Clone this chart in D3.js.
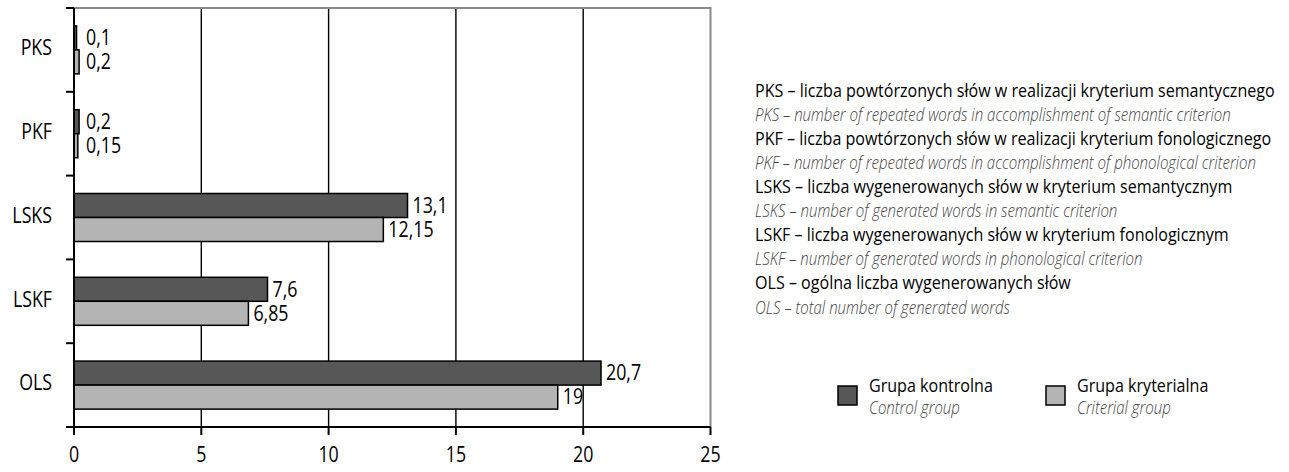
<!DOCTYPE html>
<html>
<head>
<meta charset="utf-8">
<script src="https://cdn.jsdelivr.net/npm/d3@7"></script>
<style>
  html, body { margin: 0; padding: 0; background: #fff; }
  svg { display: block; }
  text { font-family: "Open Sans", "Noto Sans", "DejaVu Sans", sans-serif; }
</style>
</head>
<body>
<svg id="chart" width="1289" height="472"></svg>
<script>
// Categories (top to bottom) and the two group series
const categories = ["PKS", "PKF", "LSKS", "LSKF", "OLS"];
const controlValues = [0.1, 0.2, 13.1, 7.6, 20.7];
const criterialValues = [0.2, 0.15, 12.15, 6.85, 19];
const xTicks = [0, 5, 10, 15, 20, 25];

const groups = ["control", "criterial"];
const groupNames = ["Grupa kontrolna", "Grupa kryterialna"];
const groupNamesEn = ["Control group", "Criterial group"];
const groupColors = ["#575757", "#b4b4b4"];

// Abbreviation glossary: [Polish, English]
const glossary = [
  ["PKS – liczba powtórzonych słów w realizacji kryterium semantycznego",
   "PKS – number of repeated words in accomplishment of semantic criterion"],
  ["PKF – liczba powtórzonych słów w realizacji kryterium fonologicznego",
   "PKF – number of repeated words in accomplishment of phonological criterion"],
  ["LSKS – liczba wygenerowanych słów w kryterium semantycznym",
   "LSKS – number of generated words in semantic criterion"],
  ["LSKF – liczba wygenerowanych słów w kryterium fonologicznym",
   "LSKF – number of generated words in phonological criterion"],
  ["OLS – ogólna liczba wygenerowanych słów",
   "OLS – total number of generated words"]
];

const fmt = v => String(v).replace(".", ",");

const svg = d3.select("#chart");

// Horizontal condensing factors so the regular sans faces read like condensed ones
function measure(str, italic) {
  const t = svg.append("text").attr("font-size", 19).text(str);
  if (italic) t.attr("font-style", "italic").attr("font-weight", 300);
  const w = t.node().getComputedTextLength();
  t.remove();
  return w;
}
const condense = 520 / measure(glossary[0][0], false);
const condenseItalic = 476 / measure(glossary[0][1], true);

function label(parent, x, y, str, opts = {}) {
  const k = opts.italic ? condenseItalic : condense;
  const t = parent.append("text")
    .attr("transform", `translate(${x},${y}) scale(${k},1)`)
    .attr("dy", "0.35em")
    .attr("font-size", opts.size || 21)
    .attr("fill", opts.fill || "#000")
    .attr("text-anchor", opts.anchor || "start")
    .text(str);
  if (opts.italic) t.attr("font-style", "italic").attr("font-weight", 300);
  return t;
}

const plot = { left: 74, right: 710.5, top: 8, bottom: 427 };

const x = d3.scaleLinear().domain([0, 25]).range([plot.left, plot.right]);
const y = d3.scaleBand().domain(categories)
  .range([plot.top, plot.bottom]).paddingInner(0.427).paddingOuter(0.2135);
const yCat = d3.scaleBand().domain(categories).range([plot.top, plot.bottom]);
const yGroup = d3.scaleBand().domain(groups).range([0, y.bandwidth()]);

// Vertical gridlines
svg.append("g").selectAll("line")
  .data(xTicks.filter(t => t > 0 && t < 25))
  .join("line")
  .attr("x1", d => x(d)).attr("x2", d => x(d))
  .attr("y1", plot.top).attr("y2", plot.bottom)
  .attr("stroke", "#000").attr("stroke-width", 1.4);

// Plot frame: top and right edges in grey
svg.append("path")
  .attr("d", `M${plot.left},${plot.top}H${plot.right}V${plot.bottom}`)
  .attr("fill", "none").attr("stroke", "#8a8a8a").attr("stroke-width", 2);

// Bars
const rows = categories.map((c, i) => ({ cat: c, vals: [controlValues[i], criterialValues[i]] }));
const rowG = svg.append("g").selectAll("g").data(rows).join("g")
  .attr("transform", d => `translate(0,${y(d.cat)})`);

rowG.selectAll("rect")
  .data(d => d.vals.map((v, j) => ({ v, g: groups[j], j })))
  .join("rect")
  .attr("x", x(0))
  .attr("y", d => yGroup(d.g))
  .attr("width", d => x(d.v) - x(0))
  .attr("height", yGroup.bandwidth())
  .attr("fill", d => groupColors[d.j])
  .attr("stroke", "#000").attr("stroke-width", 1.5);

// Value labels
rowG.each(function (d) {
  const g = d3.select(this);
  d.vals.forEach((v, j) => {
    const lx = Math.max(x(v) + 5, x(0) + 12);
    label(g, lx, yGroup(groups[j]) + yGroup.bandwidth() / 2, fmt(v), { size: 21 });
  });
});

// Left axis with ticks between categories
const axisG = svg.append("g");
axisG.append("line")
  .attr("x1", plot.left).attr("x2", plot.left)
  .attr("y1", plot.top).attr("y2", plot.bottom + 8)
  .attr("stroke", "#000").attr("stroke-width", 2);
const boundaries = categories.map(c => yCat(c)).concat([plot.bottom]);
axisG.selectAll("line.ytick").data(boundaries).join("line")
  .attr("class", "ytick")
  .attr("x1", plot.left - 8).attr("x2", plot.left)
  .attr("y1", d => d).attr("y2", d => d)
  .attr("stroke", "#000").attr("stroke-width", 2);
categories.forEach(c => {
  label(svg, plot.left - 22, yCat(c) + yCat.bandwidth() / 2 - 2, c, { size: 21, anchor: "end" });
});

// Bottom axis
axisG.append("line")
  .attr("x1", plot.left - 8).attr("x2", plot.right)
  .attr("y1", plot.bottom).attr("y2", plot.bottom)
  .attr("stroke", "#000").attr("stroke-width", 2);
axisG.selectAll("line.xtick").data(xTicks).join("line")
  .attr("class", "xtick")
  .attr("x1", d => x(d)).attr("x2", d => x(d))
  .attr("y1", plot.bottom).attr("y2", plot.bottom + 8)
  .attr("stroke", "#000").attr("stroke-width", 2);
xTicks.forEach(t => label(svg, x(t), 455, String(t), { size: 21, anchor: "middle" }));

// Glossary of abbreviations
const glossX = 755, glossTop = 90, glossStep = 24.1;
glossary.forEach((pair, i) => {
  label(svg, glossX, glossTop + glossStep * 2 * i, pair[0], { size: 19 });
  label(svg, glossX, glossTop + glossStep * (2 * i + 1), pair[1],
    { size: 19, italic: true, fill: "#444" });
});

// Group legend
const legendX = [838, 1046];
groups.forEach((g, i) => {
  svg.append("rect")
    .attr("x", legendX[i]).attr("y", 386)
    .attr("width", 19).attr("height", 19)
    .attr("fill", groupColors[i]).attr("stroke", "#000").attr("stroke-width", 1.5);
  label(svg, legendX[i] + 31, 385, groupNames[i], { size: 19 });
  label(svg, legendX[i] + 31, 407, groupNamesEn[i], { size: 19, italic: true, fill: "#444" });
});
</script>
</body>
</html>
